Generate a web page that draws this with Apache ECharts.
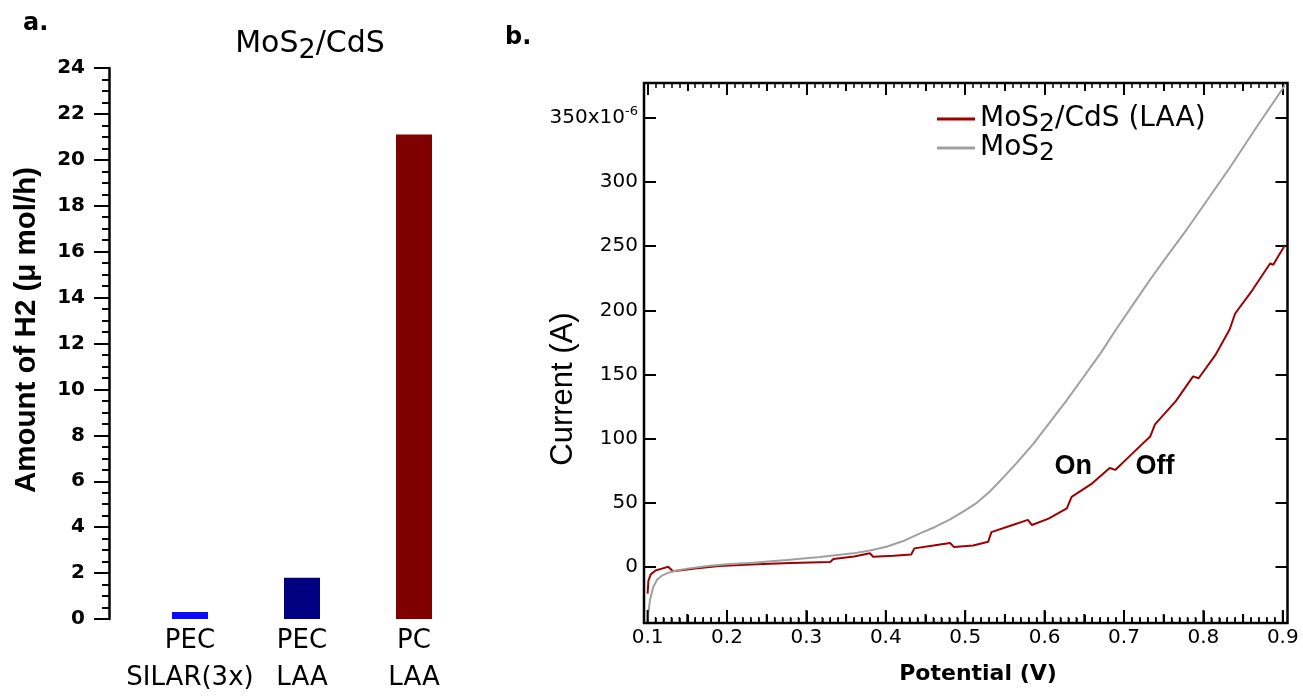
<!DOCTYPE html>
<html>
<head>
<meta charset="utf-8">
<script src="https://cdn.jsdelivr.net/npm/echarts@6/dist/echarts.min.js"></script>
<style>
  html, body { margin: 0; padding: 0; background: #fff; }
  #chart { width: 1303px; height: 697px; }
</style>
</head>
<body>
<div id="chart"></div>
<script>
// ---- Panel a: amount of H2 evolved ----
const h2Categories = ['PEC\nSILAR(3x)', 'PEC\nLAA', 'PC\nLAA'];
const h2Amounts = [0.3, 1.8, 21.1];
const h2Colors = ['#0a0aff', '#000080', '#800000'];

// ---- Panel b: current vs potential (current in units of 1e-6 A) ----
const mos2Potential = [0.100, 0.101, 0.103, 0.107, 0.112, 0.118, 0.125, 0.135, 0.150, 0.175,
  0.200, 0.233, 0.275, 0.317, 0.359, 0.380, 0.401, 0.422, 0.443, 0.462, 0.481, 0.500,
  0.515, 0.530, 0.544, 0.565, 0.586, 0.607, 0.628, 0.649, 0.670, 0.691, 0.712, 0.733,
  0.754, 0.779, 0.806, 0.833, 0.867, 0.900, 0.905];
const mos2Current = [-43, -36, -26, -16, -10, -7, -5, -3.2, -1.5, 0.5,
  2, 3, 5.2, 7.5, 10.4, 12.7, 15.6, 20, 26, 31, 37, 44,
  50, 58, 67, 81, 96, 113, 130, 148, 166, 186, 205, 224,
  242, 263, 287, 311, 343, 373, 378];

const laaPotential = [0.100, 0.101, 0.104, 0.110, 0.118, 0.126, 0.128, 0.132, 0.160, 0.190,
  0.230, 0.280, 0.330, 0.334, 0.360, 0.380, 0.384, 0.410, 0.432, 0.436,
  0.460, 0.481, 0.486, 0.510, 0.529, 0.533, 0.555, 0.579, 0.584, 0.605,
  0.628, 0.634, 0.660, 0.682, 0.689, 0.710, 0.733, 0.739, 0.765, 0.787,
  0.794, 0.815, 0.833, 0.840, 0.862, 0.884, 0.888, 0.895, 0.903];
const laaCurrent = [-21, -11, -6, -3, -1.5, 0, 0.5, -3.5, -1.5, 0.5,
  1.8, 2.8, 3.6, 6, 8, 10.5, 7.8, 8.5, 9.5, 14.3,
  16.5, 18.5, 15.3, 16.5, 19.5, 27, 31.5, 36.5, 32.5, 37.5,
  45.5, 54.5, 65, 77, 75.5, 88, 101.5, 111, 129, 148.5,
  147, 165, 185, 197.5, 216, 236.5, 235.5, 243, 251];

// light on / off annotations [potential, current]
const onLabelAt = [0.636, 78];
const offLabelAt = [0.739, 78];

const SANS = 'DejaVu Sans';
const ARIAL = 'Liberation Sans';
const zip = (xs, ys) => xs.map((x, i) => [x, ys[i]]);

const chart = echarts.init(document.getElementById('chart'));

// axis carrying only the tick marks (and optionally labels) of panel b
function tickAxis(gridIndex, position, interval, tickLen, withMinor, inside, labelOpt) {
  const vertical = position === 'left' || position === 'right';
  return {
    gridIndex, type: 'value', position,
    min: vertical ? 0 : 0.1,
    max: vertical ? 350 : 0.9,
    interval,
    axisLine: { show: false, onZero: false },
    axisTick: { show: tickLen > 0, inside, length: tickLen, lineStyle: { color: '#000', width: 2 } },
    minorTick: { show: withMinor, splitNumber: 10, length: 5, lineStyle: { color: '#000', width: 1.5 } },
    splitLine: { show: false },
    minorSplitLine: { show: false },
    axisLabel: labelOpt || { show: false }
  };
}
const hiddenAxis = (gridIndex, min, max) => ({
  gridIndex, type: 'value', min, max, show: false,
  axisLine: { onZero: false }, splitLine: { show: false }
});

// frame of panel b
const frameTop = 83, frameBottom = 623;
// tick lengths along the potential axis: major (0.1), half (0.05), minor (0.01)
const tickLen = { major: 12, half: 8, minor: 5 };

const option = {
  animation: false,
  backgroundColor: '#fff',
  grid: [
    // 0: panel a
    { left: 134, right: 833, top: 68, bottom: 73, containLabel: false },
    // 1: panel b data area (0.1..0.9 V, 0..350)
    { left: 647.6, right: 20.2, top: 118, bottom: 130.3, containLabel: false },
    // 2: panel b frame
    { left: 644, right: 15.5, top: frameTop, bottom: 697 - frameBottom, containLabel: false, show: true,
      borderColor: '#000', borderWidth: 2.5, backgroundColor: 'transparent' },
    // 3: potential ticks along the frame's top and bottom edges
    { left: 647.6, right: 20.2, top: frameTop, bottom: 697 - frameBottom, containLabel: false },
    // 4: current ticks along the frame's left and right edges
    { left: 644, right: 15.5, top: 118, bottom: 130.3, containLabel: false }
  ],
  xAxis: [
    {
      gridIndex: 0, type: 'category', data: h2Categories,
      axisLine: { show: false, onZero: false }, axisTick: { show: false },
      axisLabel: { interval: 0, margin: 4, fontFamily: SANS, fontSize: 26, lineHeight: 37, color: '#000' }
    },
    hiddenAxis(1, 0.1, 0.9),
    tickAxis(3, 'bottom', 0.1, tickLen.major, true, true, {
      show: true, margin: 5, fontFamily: SANS, fontSize: 20, color: '#000',
      formatter: v => v.toFixed(1)
    }),
    tickAxis(3, 'bottom', 0.05, tickLen.half, false, true),
    tickAxis(3, 'top', 0.1, tickLen.major, true, true),
    tickAxis(3, 'top', 0.05, tickLen.half, false, true),
    hiddenAxis(2, 0, 1),
    hiddenAxis(4, 0, 1)
  ],
  yAxis: [
    {
      gridIndex: 0, type: 'value', position: 'left', offset: 25,
      min: 0, max: 24, interval: 2,
      axisLine: { show: true, onZero: false, lineStyle: { color: '#000', width: 2.5 } },
      axisTick: { show: true, inside: false, length: 15, lineStyle: { color: '#000', width: 2 } },
      minorTick: { show: true, splitNumber: 4, length: 7, lineStyle: { color: '#000', width: 2 } },
      splitLine: { show: false }, minorSplitLine: { show: false },
      axisLabel: { margin: 24, fontFamily: SANS, fontWeight: 'bold', fontSize: 20, color: '#000' }
    },
    hiddenAxis(1, 0, 350),
    tickAxis(4, 'left', 50, 12, false, true, {
      show: true, margin: 6, fontFamily: SANS, fontSize: 20, color: '#000',
      formatter: v => (v === 350 ? '350x10{sup|-6}' : String(v)),
      rich: { sup: { fontFamily: SANS, fontSize: 13, padding: [0, 0, 12, 0] } }
    }),
    tickAxis(4, 'right', 50, 12, false, true),
    hiddenAxis(2, 0, 1),
    hiddenAxis(3, 0, 1)
  ],
  legend: {
    orient: 'vertical', left: 937, top: 105, padding: 0,
    itemWidth: 38, itemHeight: 3, itemGap: -3, icon: 'rect',
    data: ['MoS2/CdS (LAA)', 'MoS2'],
    formatter: name => name.replace('MoS2', 'MoS{sub|2}'),
    textStyle: {
      fontFamily: SANS, fontSize: 28, color: '#000',
      rich: { sub: { fontFamily: SANS, fontSize: 25, padding: [11, 0, 0, 0] } }
    }
  },
  series: [
    {
      type: 'bar', xAxisIndex: 0, yAxisIndex: 0, barWidth: 36,
      data: h2Amounts.map((v, i) => ({ value: v, itemStyle: { color: h2Colors[i] } }))
    },
    {
      name: 'MoS2/CdS (LAA)', type: 'line', xAxisIndex: 1, yAxisIndex: 1,
      data: zip(laaPotential, laaCurrent), symbol: 'none', clip: false,
      color: '#a00000', lineStyle: { color: '#a00000', width: 2 },
      markPoint: {
        symbol: 'circle', symbolSize: 1, itemStyle: { color: 'rgba(0,0,0,0)' },
        label: { show: true, position: 'inside', color: '#000', fontFamily: ARIAL,
          fontWeight: 'bold', fontSize: 27, formatter: p => p.name },
        data: [
          { name: 'On', coord: onLabelAt },
          { name: 'Off', coord: offLabelAt }
        ]
      }
    },
    {
      name: 'MoS2', type: 'line', xAxisIndex: 1, yAxisIndex: 1,
      data: zip(mos2Potential, mos2Current), symbol: 'none', clip: false,
      color: '#a0a0a0', lineStyle: { color: '#a0a0a0', width: 2 }
    }
  ],
  graphic: [
    { type: 'text', x: 23, y: 24, style: { text: 'a.', fontFamily: SANS, fontWeight: 'bold',
      fontSize: 24, fill: '#000', verticalAlign: 'middle' } },
    { type: 'text', x: 505, y: 38, style: { text: 'b.', fontFamily: SANS, fontWeight: 'bold',
      fontSize: 24, fill: '#000', verticalAlign: 'middle' } },
    { type: 'text', x: 310, y: 44, style: {
      text: 'MoS{sub|2}/CdS', fontFamily: SANS, fontSize: 30, fill: '#000',
      align: 'center', verticalAlign: 'middle',
      rich: { sub: { fontFamily: SANS, fontSize: 27, padding: [14, 0, 0, 0] } } } },
    { type: 'text', x: 27, y: 330, rotation: Math.PI / 2, style: {
      text: 'Amount of H2 (\u03bc mol/h)', fontFamily: ARIAL, fontWeight: 'bold', fontSize: 29.5,
      fill: '#000', align: 'center', verticalAlign: 'middle' } },
    { type: 'text', x: 563, y: 389, rotation: Math.PI / 2, style: {
      text: 'Current (A)', fontFamily: ARIAL, fontSize: 31,
      fill: '#000', align: 'center', verticalAlign: 'middle' } },
    { type: 'text', x: 978, y: 674, style: {
      text: 'Potential (V)', fontFamily: SANS, fontWeight: 'bold', fontSize: 22,
      fill: '#000', align: 'center', verticalAlign: 'middle' } }
  ]
};

chart.setOption(option);

// Tick marks rising from the frame's bottom edge, placed through the potential scale,
// drawn on their own layer above everything else
try {
  const bottomTicks = [];
  for (let k = 10; k <= 90; k++) {
    const major = k % 10 === 0;
    const half = !major && k % 5 === 0;
    const len = major ? tickLen.major : (half ? tickLen.half : tickLen.minor);
    const px = chart.convertToPixel({ gridIndex: 1 }, [k / 100, 0])[0];
    if (!isFinite(px)) continue;
    bottomTicks.push({
      type: 'line', zlevel: 5, z: 100, silent: true,
      shape: { x1: px, y1: frameBottom - 1, x2: px, y2: frameBottom - 1 - len },
      style: { stroke: '#000', lineWidth: major || half ? 2 : 1.5 }
    });
  }
  option.graphic = option.graphic.concat(bottomTicks);
  chart.setOption(option, true);
} catch (e) {
  // keep the chart as already drawn
}
</script>
</body>
</html>
